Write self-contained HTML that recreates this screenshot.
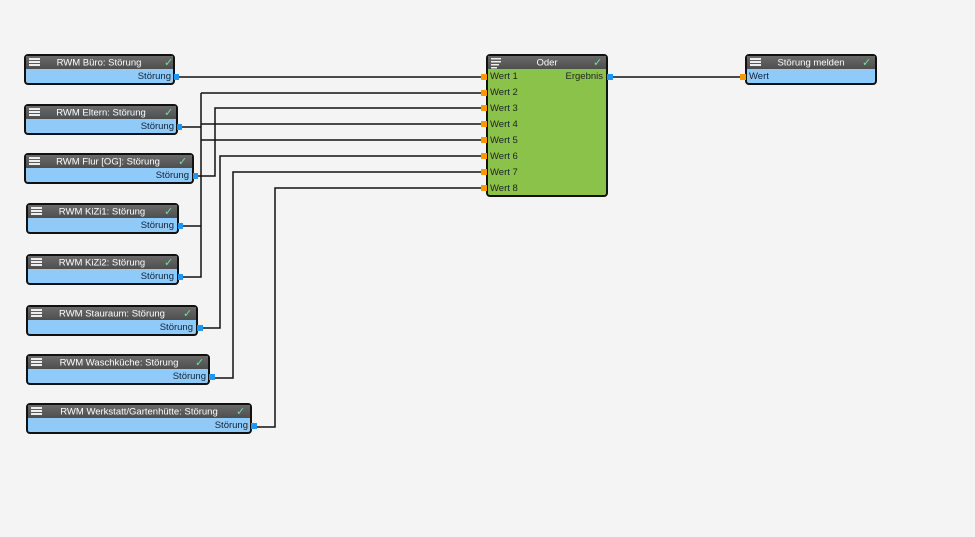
<!DOCTYPE html>
<html><head><meta charset="utf-8"><style>
html,body{margin:0;padding:0;background:#f4f4f4;}
svg{display:block;font-family:"Liberation Sans",sans-serif;}
</style></head><body>
<svg width="975" height="537" viewBox="0 0 975 537">
<defs>
<linearGradient id="hd" x1="0" y1="0" x2="0" y2="1"><stop offset="0" stop-color="#6a6a6a"/><stop offset="1" stop-color="#4e4e4e"/></linearGradient>
<g id="menu"><rect x="0" y="0" width="11" height="2" fill="#eee"/><rect x="0" y="3" width="11" height="2" fill="#eee"/><rect x="0" y="6" width="11" height="2" fill="#eee"/></g>
</defs>
<rect width="975" height="537" fill="#f4f4f4"/>
<g stroke="#111" stroke-width="1.5" fill="none">
<path d="M178 77H481"/>
<path d="M181 127H201"/>
<path d="M201 93H481M201 93V277H181M201 226H181M201 124H481M201 140H481"/>
<path d="M197 176H215V108H481"/>
<path d="M202 328H220V156H481"/>
<path d="M213 378H233V172H481"/>
<path d="M256 427H275V188H481"/>
<path d="M612 77H741"/>
</g>
<g font-size="9.5">
<!-- source nodes -->
<g>
<rect x="25" y="55" width="149" height="29" rx="3" fill="#90caf9" stroke="#111" stroke-width="2"/>
<path d="M26 56H173V69H26Z" fill="url(#hd)"/>
<use href="#menu" x="29" y="58"/><text x="99" y="65.5" fill="#fff" text-anchor="middle">RWM Büro: Störung</text>
<text x="164" y="66" fill="#6ee0a0" font-size="11">✓</text>
<text x="171" y="79" fill="#123" text-anchor="end">Störung</text>
<rect x="174" y="74" width="5" height="6" fill="#2196f3"/>
</g>
<g>
<rect x="25" y="105" width="152" height="29" rx="3" fill="#90caf9" stroke="#111" stroke-width="2"/>
<path d="M26 106H176V119H26Z" fill="url(#hd)"/>
<use href="#menu" x="29" y="108"/><text x="101" y="115.5" fill="#fff" text-anchor="middle">RWM Eltern: Störung</text>
<text x="164" y="116" fill="#6ee0a0" font-size="11">✓</text>
<text x="174" y="129" fill="#123" text-anchor="end">Störung</text>
<rect x="177" y="124" width="5" height="6" fill="#2196f3"/>
</g>
<g>
<rect x="25" y="154" width="168" height="29" rx="3" fill="#90caf9" stroke="#111" stroke-width="2"/>
<path d="M26 155H192V168H26Z" fill="url(#hd)"/>
<use href="#menu" x="29" y="157"/><text x="108" y="164.5" fill="#fff" text-anchor="middle">RWM Flur [OG]: Störung</text>
<text x="178" y="165" fill="#6ee0a0" font-size="11">✓</text>
<text x="189" y="178" fill="#123" text-anchor="end">Störung</text>
<rect x="193" y="173" width="5" height="6" fill="#2196f3"/>
</g>
<g>
<rect x="27" y="204" width="151" height="29" rx="3" fill="#90caf9" stroke="#111" stroke-width="2"/>
<path d="M28 205H177V218H28Z" fill="url(#hd)"/>
<use href="#menu" x="31" y="207"/><text x="102" y="214.5" fill="#fff" text-anchor="middle">RWM KiZi1: Störung</text>
<text x="164" y="215" fill="#6ee0a0" font-size="11">✓</text>
<text x="174" y="228" fill="#123" text-anchor="end">Störung</text>
<rect x="178" y="223" width="5" height="6" fill="#2196f3"/>
</g>
<g>
<rect x="27" y="255" width="151" height="29" rx="3" fill="#90caf9" stroke="#111" stroke-width="2"/>
<path d="M28 256H177V269H28Z" fill="url(#hd)"/>
<use href="#menu" x="31" y="258"/><text x="102" y="265.5" fill="#fff" text-anchor="middle">RWM KiZi2: Störung</text>
<text x="164" y="266" fill="#6ee0a0" font-size="11">✓</text>
<text x="174" y="279" fill="#123" text-anchor="end">Störung</text>
<rect x="178" y="274" width="5" height="6" fill="#2196f3"/>
</g>
<g>
<rect x="27" y="306" width="170" height="29" rx="3" fill="#90caf9" stroke="#111" stroke-width="2"/>
<path d="M28 307H196V320H28Z" fill="url(#hd)"/>
<use href="#menu" x="31" y="309"/><text x="112" y="316.5" fill="#fff" text-anchor="middle">RWM Stauraum: Störung</text>
<text x="183" y="317" fill="#6ee0a0" font-size="11">✓</text>
<text x="193" y="330" fill="#123" text-anchor="end">Störung</text>
<rect x="197" y="325" width="6" height="6" fill="#2196f3"/>
</g>
<g>
<rect x="27" y="355" width="182" height="29" rx="3" fill="#90caf9" stroke="#111" stroke-width="2"/>
<path d="M28 356H208V369H28Z" fill="url(#hd)"/>
<use href="#menu" x="31" y="358"/><text x="119" y="365.5" fill="#fff" text-anchor="middle">RWM Waschküche: Störung</text>
<text x="195" y="366" fill="#6ee0a0" font-size="11">✓</text>
<text x="206" y="379" fill="#123" text-anchor="end">Störung</text>
<rect x="209" y="374" width="6" height="6" fill="#2196f3"/>
</g>
<g>
<rect x="27" y="404" width="224" height="29" rx="3" fill="#90caf9" stroke="#111" stroke-width="2"/>
<path d="M28 405H250V418H28Z" fill="url(#hd)"/>
<use href="#menu" x="31" y="407"/><text x="139" y="414.5" fill="#fff" text-anchor="middle">RWM Werkstatt/Gartenhütte: Störung</text>
<text x="236" y="415" fill="#6ee0a0" font-size="11">✓</text>
<text x="248" y="428" fill="#123" text-anchor="end">Störung</text>
<rect x="251" y="423" width="6" height="6" fill="#2196f3"/>
</g>
<!-- Oder -->
<g>
<rect x="487" y="55" width="120" height="141" rx="3" fill="#8bc34a" stroke="#111" stroke-width="2"/>
<path d="M488 56H606V69H488Z" fill="url(#hd)"/>
<g fill="#eee"><rect x="491" y="58" width="10" height="1.5"/><rect x="491" y="61" width="10" height="1.5"/><rect x="491" y="64" width="8" height="1.5"/><rect x="491" y="67" width="6" height="1.5"/></g>
<text x="547" y="65.5" fill="#fff" text-anchor="middle">Oder</text>
<text x="593" y="66" fill="#6ee0a0" font-size="11">✓</text>
<text x="603" y="79" fill="#222" text-anchor="end">Ergebnis</text>
<rect x="607" y="74" width="6" height="6" fill="#2196f3"/>
<g fill="#222">
<text x="490" y="79">Wert 1</text><text x="490" y="95">Wert 2</text><text x="490" y="111">Wert 3</text><text x="490" y="127">Wert 4</text>
<text x="490" y="143">Wert 5</text><text x="490" y="159">Wert 6</text><text x="490" y="175">Wert 7</text><text x="490" y="191">Wert 8</text>
</g>
<g fill="#ff9800">
<rect x="481" y="74" width="6" height="6"/><rect x="481" y="90" width="6" height="6"/><rect x="481" y="105" width="6" height="6"/><rect x="481" y="121" width="6" height="6"/>
<rect x="481" y="137" width="6" height="6"/><rect x="481" y="153" width="6" height="6"/><rect x="481" y="169" width="6" height="6"/><rect x="481" y="185" width="6" height="6"/>
</g>
</g>
<!-- Störung melden -->
<g>
<rect x="746" y="55" width="130" height="29" rx="3" fill="#90caf9" stroke="#111" stroke-width="2"/>
<path d="M747 56H875V69H747Z" fill="url(#hd)"/>
<use href="#menu" x="750" y="58"/><text x="811" y="65.5" fill="#fff" text-anchor="middle">Störung melden</text>
<text x="862" y="66" fill="#6ee0a0" font-size="11">✓</text>
<text x="749" y="79" fill="#123">Wert</text>
<rect x="740" y="74" width="6" height="6" fill="#ff9800"/>
</g>
</g>
</svg>
</body></html>
